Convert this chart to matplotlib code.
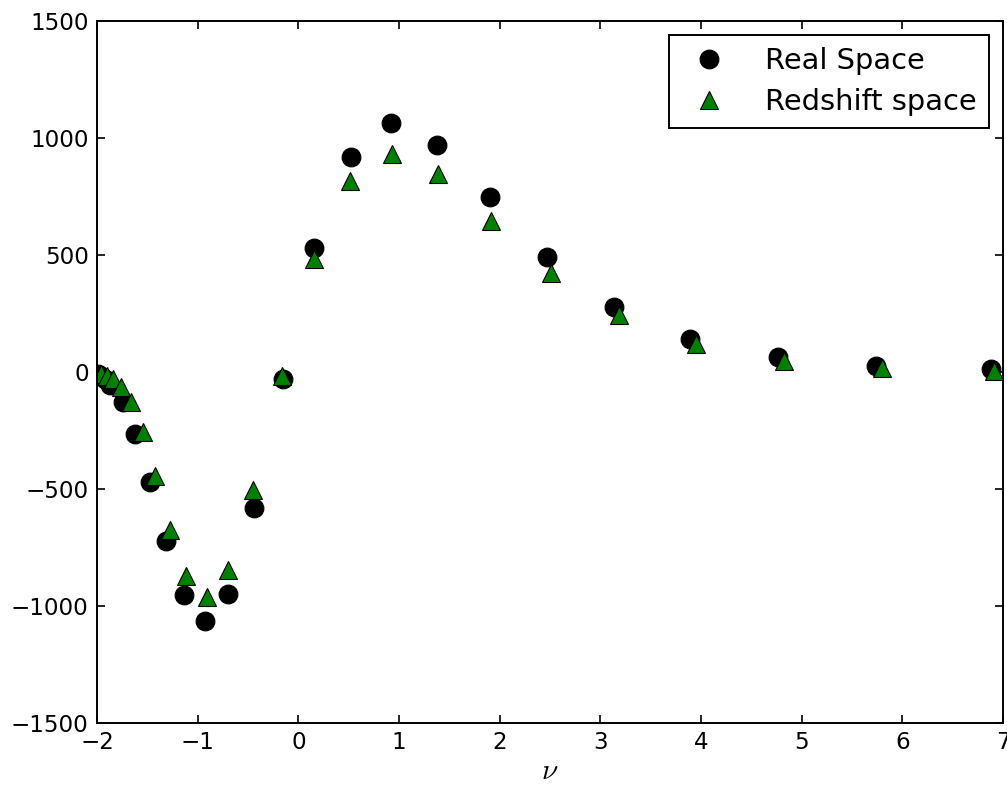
import matplotlib
matplotlib.use("Agg")
import matplotlib.pyplot as plt

# Real space (circles)
nu_real = [-1.99, -1.96, -1.92, -1.87, -1.74, -1.62, -1.47, -1.31, -1.14, -0.93,
           -0.70, -0.44, -0.15, 0.16, 0.52, 0.92, 1.38, 1.90, 2.47, 3.14,
           3.89, 4.76, 5.74, 6.88]
val_real = [-8, -15, -30, -55, -130, -263, -469, -721, -952, -1064,
            -948, -580, -28, 529, 918, 1064, 970, 747, 490, 276,
            139, 62, 24, 11]

# Redshift space (triangles)
nu_red = [-1.96, -1.90, -1.84, -1.76, -1.66, -1.54, -1.42, -1.27, -1.12, -0.91,
          -0.70, -0.45, -0.16, 0.16, 0.51, 0.93, 1.39, 1.91, 2.51, 3.19,
          3.95, 4.82, 5.80, 6.91]
val_red = [-8, -15, -28, -62, -130, -255, -443, -674, -871, -961,
           -845, -503, -19, 482, 815, 931, 846, 644, 421, 242,
           118, 49, 15, 3]

labels = ["Real Space", "Redshift space"]
xticks = [-2, -1, 0, 1, 2, 3, 4, 5, 6, 7]
yticks = [-1500, -1000, -500, 0, 500, 1000, 1500]

plt.rcParams['font.family'] = ['DejaVu Sans']
plt.rcParams['mathtext.fontset'] = 'cm'

fig = plt.figure(figsize=(10.07, 7.85), dpi=100)
ax = fig.add_axes([97/1007, 1 - 723/785, (1003 - 97)/1007, (723 - 21)/785])

ax.plot(nu_real, val_real, linestyle='none', marker='o', markersize=13.5,
        markerfacecolor='black', markeredgecolor='black', markeredgewidth=0.8,
        label=labels[0])
ax.plot(nu_red, val_red, linestyle='none', marker='^', markersize=13.5,
        markerfacecolor=(0, 0.5, 0), markeredgecolor='black', markeredgewidth=0.8,
        label=labels[1])

ax.set_xlim(-2, 7)
ax.set_ylim(-1500, 1500)
ax.set_xticks(xticks)
ax.set_yticks(yticks)
ax.tick_params(direction='in', length=6, width=1.2, top=True, right=True,
               labelsize=16.6, pad=6)
for s in ax.spines.values():
    s.set_linewidth(1.4)

ax.set_xlabel(r'$\nu$', fontsize=21, labelpad=2)

leg = ax.legend(loc='upper right', numpoints=1, fontsize=20.8, frameon=True,
                fancybox=False, edgecolor='black', framealpha=1,
                borderaxespad=0.5, borderpad=0.4, handlelength=2.0,
                handletextpad=0.95, labelspacing=0.45)
leg.get_frame().set_linewidth(1.4)

fig.savefig('out.png', dpi=100)
